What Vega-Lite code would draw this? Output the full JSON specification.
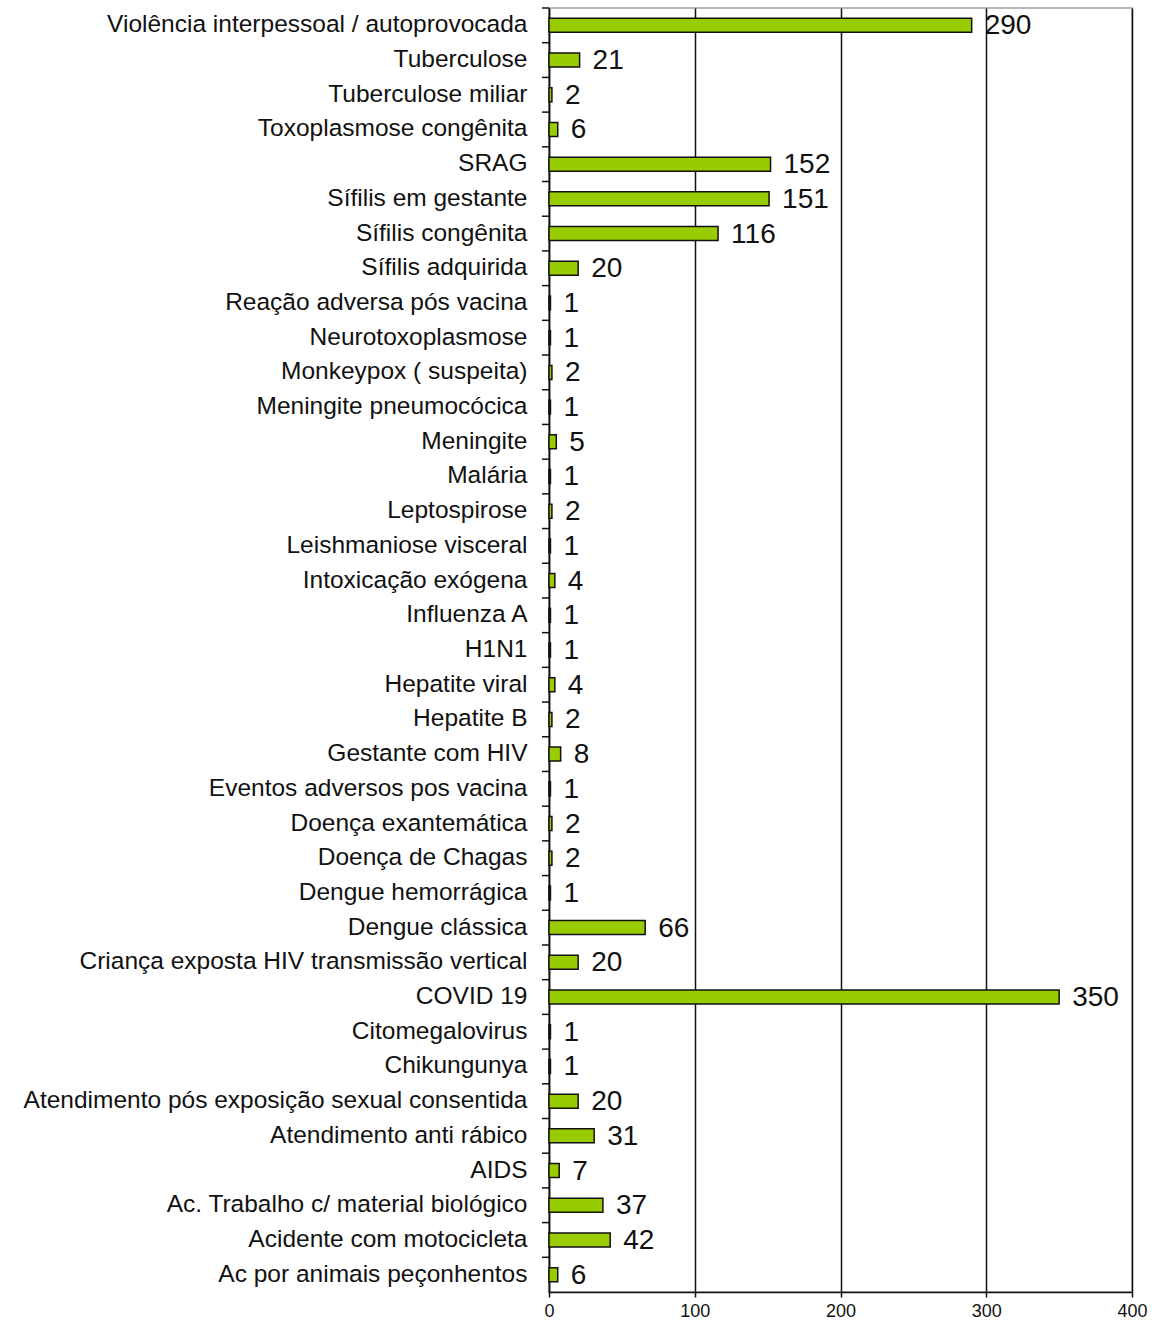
{
  "$schema": "https://vega.github.io/schema/vega-lite/v6.json",
  "autosize": {"type": "none"},
  "padding": {"left": 549, "top": 8, "right": 23, "bottom": 31},
  "width": 583,
  "height": 1284,
  "background": "white",
  "config": {
    "font": "Liberation Sans",
    "view": {"stroke": "#a0a0a0", "strokeWidth": 1.5}
  },
  "data": {"values": [
    {"agravo": "Violência interpessoal / autoprovocada", "n": 290},
    {"agravo": "Tuberculose", "n": 21},
    {"agravo": "Tuberculose miliar", "n": 2},
    {"agravo": "Toxoplasmose congênita", "n": 6},
    {"agravo": "SRAG", "n": 152},
    {"agravo": "Sífilis em gestante", "n": 151},
    {"agravo": "Sífilis congênita", "n": 116},
    {"agravo": "Sífilis adquirida", "n": 20},
    {"agravo": "Reação adversa pós vacina", "n": 1},
    {"agravo": "Neurotoxoplasmose", "n": 1},
    {"agravo": "Monkeypox ( suspeita)", "n": 2},
    {"agravo": "Meningite pneumocócica", "n": 1},
    {"agravo": "Meningite", "n": 5},
    {"agravo": "Malária", "n": 1},
    {"agravo": "Leptospirose", "n": 2},
    {"agravo": "Leishmaniose visceral", "n": 1},
    {"agravo": "Intoxicação exógena", "n": 4},
    {"agravo": "Influenza A", "n": 1},
    {"agravo": "H1N1", "n": 1},
    {"agravo": "Hepatite viral", "n": 4},
    {"agravo": "Hepatite B", "n": 2},
    {"agravo": "Gestante com HIV", "n": 8},
    {"agravo": "Eventos adversos pos vacina", "n": 1},
    {"agravo": "Doença exantemática", "n": 2},
    {"agravo": "Doença de Chagas", "n": 2},
    {"agravo": "Dengue hemorrágica", "n": 1},
    {"agravo": "Dengue clássica", "n": 66},
    {"agravo": "Criança  exposta HIV transmissão vertical", "n": 20},
    {"agravo": "COVID 19", "n": 350},
    {"agravo": "Citomegalovirus", "n": 1},
    {"agravo": "Chikungunya", "n": 1},
    {"agravo": "Atendimento pós exposição sexual consentida", "n": 20},
    {"agravo": "Atendimento anti rábico", "n": 31},
    {"agravo": "AIDS", "n": 7},
    {"agravo": "Ac. Trabalho c/ material biológico", "n": 37},
    {"agravo": "Acidente com motocicleta", "n": 42},
    {"agravo": "Ac por animais peçonhentos", "n": 6}
  ]},
  "encoding": {
    "y": {
      "field": "agravo", "type": "nominal", "sort": null,
      "scale": {"paddingInner": 0, "paddingOuter": 0},
      "axis": {
        "title": null, "ticks": false,
        "domainColor": "#111", "domainWidth": 1.5,
        "labelFontSize": 24.5, "labelColor": "#111", "labelPadding": 22, "labelLimit": 0
      }
    },
    "x": {
      "field": "n", "type": "quantitative",
      "scale": {"domain": [0, 400], "nice": false},
      "axis": {
        "title": null, "values": [0, 100, 200, 300, 400], "grid": true,
        "gridColor": "#111", "gridWidth": 1.5, "gridOpacity": 1,
        "domainColor": "#111", "domainWidth": 1.5,
        "tickColor": "#111", "tickWidth": 1.5, "tickSize": 5,
        "labelFlush": false, "labelOverlap": false,
        "labelFontSize": 18, "labelColor": "#111", "labelPadding": 5
      }
    }
  },
  "layer": [
    {
      "mark": {"type": "rule", "stroke": "#111", "strokeWidth": 1.5, "clip": false},
      "encoding": {
        "y": {"field": "agravo", "type": "nominal", "sort": null, "bandPosition": 0},
        "x": {"datum": -4.8},
        "x2": {"datum": 0}
      }
    },
    {
      "mark": {"type": "bar", "size": 14, "fill": "#99CC00", "stroke": "#111", "strokeWidth": 1.5}
    },
    {
      "mark": {"type": "text", "align": "left", "baseline": "middle", "dx": 13, "dy": 1, "fontSize": 28, "color": "#111"},
      "encoding": {"text": {"field": "n", "type": "quantitative"}}
    }
  ]
}
